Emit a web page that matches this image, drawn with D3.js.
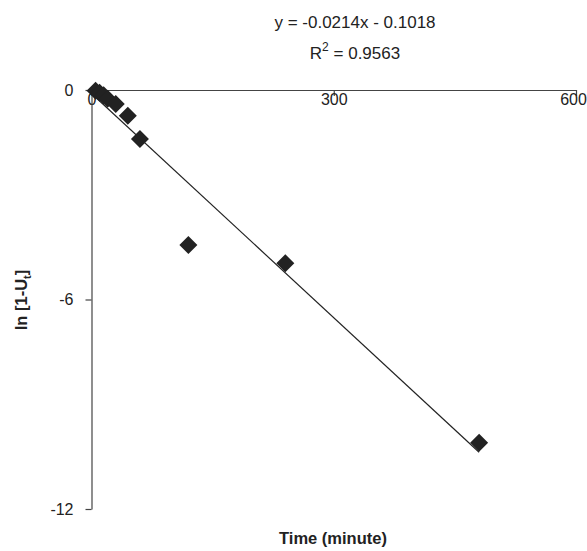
<!DOCTYPE html>
<html>
<head>
<meta charset="utf-8">
<script src="https://cdn.jsdelivr.net/npm/d3@7"></script>
<style>
  body { margin: 0; background: #fff; }
  svg text { font-family: "Liberation Sans", Arial, sans-serif; fill: #222; }
</style>
</head>
<body>
<div id="chart"></div>
<script>
// time in minutes and ln[1-Ut] values
const times = [5, 10, 15, 20, 30, 45, 60, 120, 240, 480];
const lnValues = [-0.02, -0.08, -0.15, -0.25, -0.4, -0.74, -1.4, -4.44, -4.96, -10.1];
const xTicks = [0, 300, 600];
const yTicks = [0, -6, -12];
const slope = -0.0214;
const intercept = -0.1018;
const fitRange = [0, 480];

const width = 587, height = 551;

const svg = d3.select("#chart").append("svg")
    .attr("width", width)
    .attr("height", height);

const x = d3.scaleLinear().domain([0, 600]).range([91.5, 576]);
const y = d3.scaleLinear().domain([0, -12]).range([90, 509]);

// x axis sits on y = 0
const xAxis = svg.append("g")
    .attr("transform", `translate(0,${y(0)})`)
    .call(d3.axisBottom(x).tickValues(xTicks).tickFormat(d => String(d))
        .tickSize(6).tickSizeOuter(0).tickPadding(0));

const yAxis = svg.append("g")
    .attr("transform", `translate(${x(0)},0)`)
    .call(d3.axisLeft(y).tickValues(yTicks).tickFormat(d => String(d))
        .tickSize(6).tickSizeOuter(0).tickPadding(12));

[xAxis, yAxis].forEach(g => {
    g.select(".domain").attr("stroke", "#444").attr("stroke-width", 1.2);
    g.selectAll(".tick line").attr("stroke", "#444").attr("stroke-width", 1.2);
    g.selectAll(".tick text")
        .style("font-size", "16px")
        .style("font-family", "Liberation Sans, Arial, sans-serif")
        .attr("fill", "#222");
});
xAxis.selectAll(".tick text").attr("dy", "0.55em");
xAxis.selectAll(".tick text").filter(d => d === 600).attr("dx", -3);

// trend line
svg.append("line")
    .attr("x1", x(fitRange[0]))
    .attr("y1", y(slope * fitRange[0] + intercept))
    .attr("x2", x(fitRange[1]))
    .attr("y2", y(slope * fitRange[1] + intercept))
    .attr("stroke", "#222")
    .attr("stroke-width", 1.2);

// diamond markers
const r = 9;
const diamond = `M0,${-r}L${r},0L0,${r}L${-r},0Z`;
svg.selectAll(".pt")
    .data(times.map((t, i) => ({ t, v: lnValues[i] })))
    .enter()
    .append("path")
    .attr("class", "pt")
    .attr("d", diamond)
    .attr("transform", d => `translate(${x(d.t)},${y(d.v)})`)
    .attr("fill", "#222");

// equation
svg.append("text")
    .attr("x", 355).attr("y", 28)
    .attr("text-anchor", "middle")
    .style("font-size", "17px")
    .text("y = -0.0214x - 0.1018");

const r2 = svg.append("text")
    .attr("x", 355).attr("y", 59)
    .attr("text-anchor", "middle")
    .style("font-size", "17px");
r2.append("tspan").text("R");
r2.append("tspan").attr("dy", -8).style("font-size", "12px").text("2");
r2.append("tspan").attr("dy", 8).text(" = 0.9563");

// axis titles
svg.append("text")
    .attr("x", 333).attr("y", 544)
    .attr("text-anchor", "middle")
    .style("font-size", "16.5px")
    .style("font-weight", "bold")
    .text("Time (minute)");

const yl = svg.append("text")
    .attr("transform", "translate(27,300) rotate(-90)")
    .attr("text-anchor", "middle")
    .style("font-size", "16.5px")
    .style("font-weight", "bold");
yl.append("tspan").text("ln [1-U");
yl.append("tspan").attr("dy", 4).style("font-size", "11px").text("t");
yl.append("tspan").attr("dy", -4).text("]");
</script>
</body>
</html>
